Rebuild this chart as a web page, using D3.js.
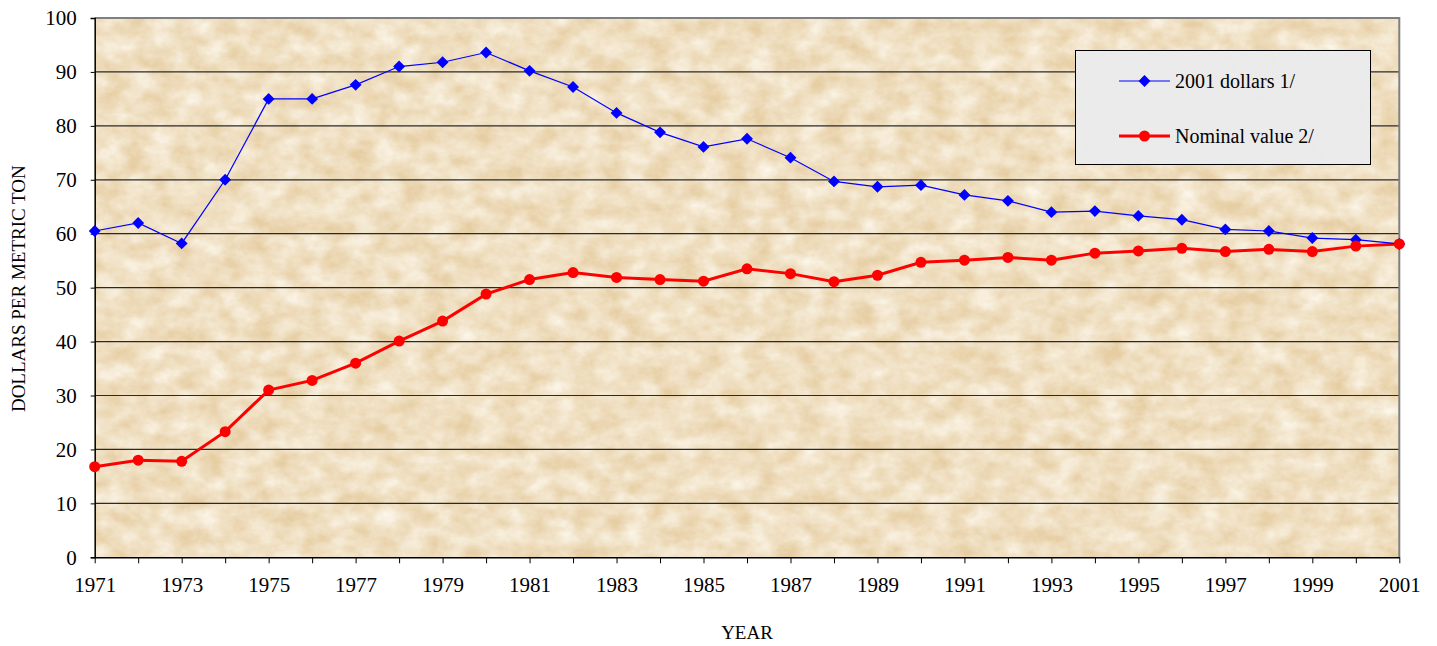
<!DOCTYPE html>
<html><head><meta charset="utf-8">
<script src="https://cdn.jsdelivr.net/npm/d3@7"></script>
<style>
html,body{margin:0;padding:0;background:#fff;}
svg{display:block;}
svg text{font-family:"Liberation Serif","Tinos","Times New Roman","DejaVu Serif",serif;}
</style></head>
<body>
<svg id="chart" width="1437" height="646"></svg>
<script>
const years = d3.range(1971, 2002);
const realDollars = [60.5,62.0,58.2,70.0,85.0,85.0,87.6,91.0,91.8,93.6,90.2,87.2,82.4,78.8,76.1,77.6,74.1,69.7,68.7,69.0,67.2,66.1,64.0,64.2,63.3,62.6,60.8,60.5,59.2,58.9,58.1];
const nominal = [16.8,18.0,17.8,23.3,31.0,32.8,36.0,40.1,43.8,48.8,51.5,52.8,51.9,51.5,51.2,53.5,52.6,51.1,52.3,54.7,55.1,55.6,55.1,56.4,56.8,57.3,56.7,57.1,56.7,57.7,58.1];
const xTickLabels = d3.range(1971, 2002, 2);
const yTicks = d3.range(0, 101, 10);
const seriesNames = ["2001 dollars 1/", "Nominal value 2/"];
const xTitle = "YEAR";
const yTitle = "DOLLARS PER METRIC TON";

const FONT = '"Liberation Serif","Tinos","Times New Roman","DejaVu Serif",serif';
const svg = d3.select("#chart");
const L = 94.7, R = 1399.3, T = 18, B = 557.3;
const x = d3.scaleLinear().domain([1971, 2001]).range([L, R]);
const y = d3.scaleLinear().domain([0, 100]).range([B, T]);

const defs = svg.append("defs");
const f1 = defs.append("filter").attr("id","paper").attr("x",0).attr("y",0).attr("width","100%").attr("height","100%");
f1.append("feTurbulence").attr("type","fractalNoise").attr("baseFrequency","0.04 0.055").attr("numOctaves",5).attr("seed",11).attr("result","n");
f1.append("feColorMatrix").attr("in","n").attr("type","matrix")
  .attr("values","0 0 0 0 0.97  0 0 0 0 0.92  0 0 0 0 0.82  0 0 0 1.3 -0.2").attr("result","c");
f1.append("feComposite").attr("in","c").attr("in2","SourceGraphic").attr("operator","in");
const f2 = defs.append("filter").attr("id","gray").attr("x",0).attr("y",0).attr("width","100%").attr("height","100%");
f2.append("feTurbulence").attr("type","fractalNoise").attr("baseFrequency","0.25").attr("numOctaves",2).attr("seed",3).attr("result","n");
f2.append("feColorMatrix").attr("in","n").attr("type","matrix")
  .attr("values","0 0 0 0 0.80  0 0 0 0 0.80  0 0 0 0 0.80  0 0 0 1.0 -0.45").attr("result","c");
f2.append("feComposite").attr("in","c").attr("in2","SourceGraphic").attr("operator","in");

// plot background
svg.append("rect").attr("x",L).attr("y",T).attr("width",R-L).attr("height",B-T).attr("fill","#e6cda2");
svg.append("rect").attr("x",L).attr("y",T).attr("width",R-L).attr("height",B-T).attr("fill","#fff").attr("filter","url(#paper)");

// gridlines
svg.append("g").selectAll("line").data(yTicks.filter(d=>d>0&&d<100)).join("line")
  .attr("x1",L).attr("x2",R).attr("y1",d=>y(d)).attr("y2",d=>y(d))
  .attr("stroke","#2a2a2a").attr("stroke-width",1.2);

// frame top/right
svg.append("path").attr("d",`M${L},${T}H${R}V${B}`).attr("fill","none").attr("stroke","#808080").attr("stroke-width",2);

// axes
const yAxis = d3.axisLeft(y).tickValues(yTicks).tickSize(4).tickPadding(14).tickFormat(d3.format("d"));
const gy = svg.append("g").attr("transform",`translate(${L},0)`).call(yAxis).attr("font-family",FONT);
gy.selectAll("text").attr("font-size",21).attr("fill","#000");
gy.select(".domain").attr("stroke","#000").attr("stroke-width",1.5);
gy.selectAll(".tick line").attr("stroke","#000");

const xAxis = d3.axisBottom(x).tickValues(years).tickSize(6).tickSizeOuter(0).tickPadding(14)
  .tickFormat(d => xTickLabels.includes(d) ? d : "");
const gx = svg.append("g").attr("transform",`translate(0,${B})`).call(xAxis).attr("font-family",FONT);
gx.selectAll("text").attr("font-size",21).attr("fill","#000");
gx.select(".domain").attr("stroke","#000").attr("stroke-width",1.5);
gx.selectAll(".tick line").attr("stroke","#000");

// titles
svg.append("text").attr("x",(L+R)/2).attr("y",639).attr("text-anchor","middle").attr("font-size",19).attr("font-family",FONT).text(xTitle);
svg.append("text").attr("transform",`translate(25,${(T+B)/2+1}) rotate(-90)`).attr("text-anchor","middle").attr("font-size",19).attr("font-family",FONT).text(yTitle);

// lines
const lineGen = d3.line().x((d,i)=>x(years[i])).y(d=>y(d));
svg.append("path").datum(nominal).attr("d",lineGen).attr("fill","none").attr("stroke","#ff0000").attr("stroke-width",3);
svg.append("path").datum(realDollars).attr("d",lineGen).attr("fill","none").attr("stroke","#0000ff").attr("stroke-width",1.2);

const diamond = d3.symbol().type(d3.symbolDiamond2).size(90);
svg.append("g").selectAll("path").data(realDollars).join("path")
  .attr("d",diamond).attr("transform",(d,i)=>`translate(${x(years[i])},${y(d)})`).attr("fill","#0000ff");
svg.append("g").selectAll("circle").data(nominal).join("circle")
  .attr("cx",(d,i)=>x(years[i])).attr("cy",d=>y(d)).attr("r",5.5).attr("fill","#ff0000");

// legend
const lg = svg.append("g");
lg.append("rect").attr("x",1075.5).attr("y",50.5).attr("width",295).attr("height",114).attr("fill","#ebebeb").attr("stroke","#000").attr("stroke-width",1);
lg.append("rect").attr("x",1076).attr("y",51).attr("width",294).attr("height",113).attr("fill","#fff").attr("filter","url(#gray)");
const lx1 = 1119, lx2 = 1170;
const ly = [81, 136];
lg.append("line").attr("x1",lx1).attr("x2",lx2).attr("y1",ly[0]).attr("y2",ly[0]).attr("stroke","#0000ff").attr("stroke-width",1.2);
lg.append("path").attr("d",diamond).attr("transform",`translate(${(lx1+lx2)/2},${ly[0]})`).attr("fill","#0000ff");
lg.append("line").attr("x1",lx1).attr("x2",lx2).attr("y1",ly[1]).attr("y2",ly[1]).attr("stroke","#ff0000").attr("stroke-width",3);
lg.append("circle").attr("cx",(lx1+lx2)/2).attr("cy",ly[1]).attr("r",5.5).attr("fill","#ff0000");
lg.selectAll("text.lt").data(seriesNames).join("text").attr("class","lt")
  .attr("x",1175).attr("y",(d,i)=>ly[i]+7).attr("font-size",20).attr("font-family",FONT).text(d=>d);
</script>
</body></html>
